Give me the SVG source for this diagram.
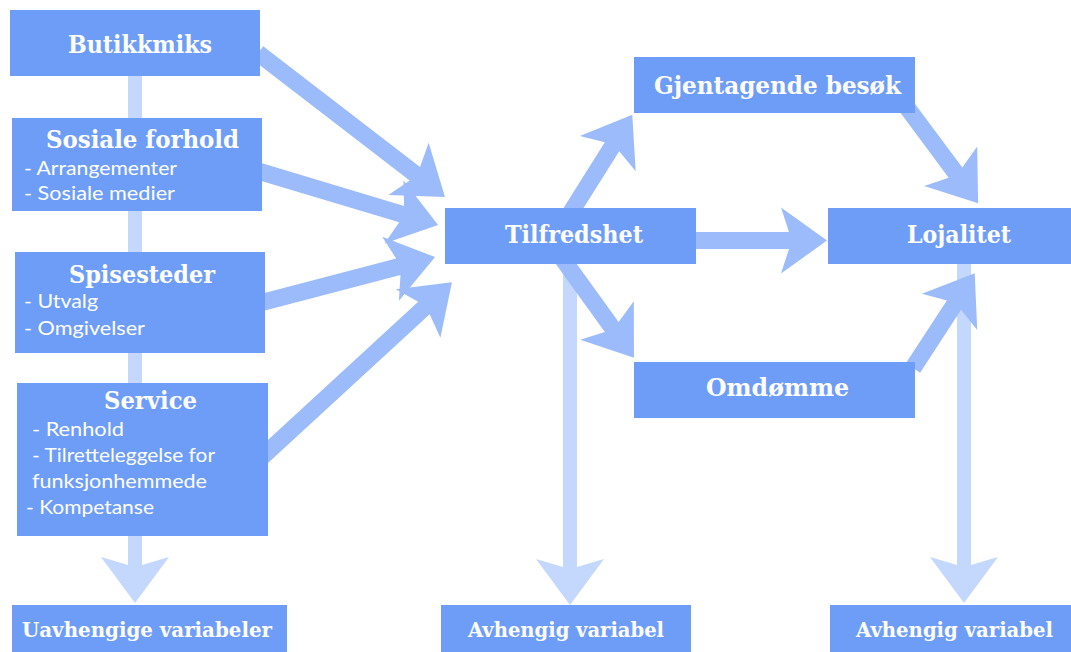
<svg xmlns="http://www.w3.org/2000/svg" width="1071" height="652" viewBox="0 0 1071 652">
<style>
.box{fill:#6e9df8}
.arr{fill:#9cbbfa}
.lt{fill:#c4d7fc}
.t{font-family:"DejaVu Serif","Liberation Serif",serif;font-weight:bold;font-size:24px;fill:#fff}
.b{font-family:"DejaVu Serif","Liberation Serif",serif;font-weight:bold;font-size:21px;fill:#fff}
.s{font-family:Lato,"Open Sans",sans-serif;font-size:20px;fill:#fff}
</style>
<rect width="1071" height="652" fill="#fff"/>
<g id="connectors">
  <polygon class="lt" transform="translate(135,70) rotate(90)" points="0,-7 495,-7 487,-34 533,0 487,34 495,7 0,7"/>
  <polygon class="lt" transform="translate(570,258) rotate(90)" points="0,-7 309,-7 301,-34 347,0 301,34 309,7 0,7"/>
  <polygon class="lt" transform="translate(964,258) rotate(90)" points="0,-7 307,-7 299,-34 345,0 299,34 307,7 0,7"/>
  <polygon class="arr" transform="translate(258,53) rotate(37.6)" points="0,-8.5 198,-8.5 190,-33 236,0 190,33 198,8.5 0,8.5"/>
  <polygon class="arr" transform="translate(258,171) rotate(16.7)" points="0,-8.5 150,-8.5 142,-33 188,0 142,33 150,8.5 0,8.5"/>
  <polygon class="arr" transform="translate(260,303) rotate(-14.7)" points="0,-8.5 143,-8.5 135,-33 181,0 135,33 143,8.5 0,8.5"/>
  <polygon class="arr" transform="translate(262,457) rotate(-42.6)" points="0,-8.5 220,-8.5 212,-33 258,0 212,33 220,8.5 0,8.5"/>
  <polygon class="arr" transform="translate(571,212) rotate(-57.8)" points="0,-8.5 77,-8.5 69,-33 115,0 69,33 77,8.5 0,8.5"/>
  <polygon class="arr" transform="translate(562,258) rotate(54.2)" points="0,-8.5 85,-8.5 77,-33 123,0 77,33 85,8.5 0,8.5"/>
  <polygon class="arr" transform="translate(690,240.5)" points="0,-8.5 99,-8.5 91,-33 137,0 91,33 99,8.5 0,8.5"/>
  <polygon class="arr" transform="translate(906,106) rotate(53.4)" points="0,-8.5 83,-8.5 75,-33 121,0 75,33 83,8.5 0,8.5"/>
  <polygon class="arr" transform="translate(913,368) rotate(-56.9)" points="0,-8.5 75,-8.5 67,-33 113,0 67,33 75,8.5 0,8.5"/>
</g>
<g id="butikkmiks">
  <rect class="box" x="10" y="10" width="250" height="66"/>
  <text class="t" x="68" y="53" textLength="144" lengthAdjust="spacingAndGlyphs">Butikkmiks</text>
</g>
<g id="sosiale">
  <rect class="box" x="12" y="118" width="250" height="93"/>
  <text class="t" x="46" y="148" textLength="193" lengthAdjust="spacingAndGlyphs">Sosiale forhold</text>
  <text class="s" x="24" y="175" textLength="153" lengthAdjust="spacingAndGlyphs">- Arrangementer</text>
  <text class="s" x="24" y="200" textLength="151" lengthAdjust="spacingAndGlyphs">- Sosiale medier</text>
</g>
<g id="spisesteder">
  <rect class="box" x="15" y="252" width="250" height="101"/>
  <text class="t" x="69" y="283" textLength="146" lengthAdjust="spacingAndGlyphs">Spisesteder</text>
  <text class="s" x="24" y="308" textLength="74" lengthAdjust="spacingAndGlyphs">- Utvalg</text>
  <text class="s" x="24" y="335" textLength="121" lengthAdjust="spacingAndGlyphs">- Omgivelser</text>
</g>
<g id="service">
  <rect class="box" x="17" y="383" width="251" height="153"/>
  <text class="t" x="104" y="409" textLength="93" lengthAdjust="spacingAndGlyphs">Service</text>
  <text class="s" x="32" y="436" textLength="92" lengthAdjust="spacingAndGlyphs">- Renhold</text>
  <text class="s" x="32" y="462" textLength="183" lengthAdjust="spacingAndGlyphs">- Tilretteleggelse for</text>
  <text class="s" x="32" y="488" textLength="175" lengthAdjust="spacingAndGlyphs">funksjonhemmede</text>
  <text class="s" x="26" y="514" textLength="128" lengthAdjust="spacingAndGlyphs">- Kompetanse</text>
</g>
<g id="uavhengige">
  <rect class="box" x="12" y="605" width="275" height="47"/>
  <text class="b" x="22" y="637" textLength="250" lengthAdjust="spacingAndGlyphs">Uavhengige variabeler</text>
</g>
<g id="tilfredshet">
  <rect class="box" x="445" y="208" width="251" height="56"/>
  <text class="t" x="505" y="243" textLength="138" lengthAdjust="spacingAndGlyphs">Tilfredshet</text>
</g>
<g id="gjentagende">
  <rect class="box" x="634" y="57" width="281" height="56"/>
  <text class="t" x="654" y="94" textLength="247" lengthAdjust="spacingAndGlyphs">Gjentagende besøk</text>
</g>
<g id="lojalitet">
  <rect class="box" x="828" y="208" width="243" height="56"/>
  <text class="t" x="907" y="243" textLength="104" lengthAdjust="spacingAndGlyphs">Lojalitet</text>
</g>
<g id="omdomme">
  <rect class="box" x="634" y="362" width="281" height="56"/>
  <text class="t" x="706" y="396" textLength="143" lengthAdjust="spacingAndGlyphs">Omdømme</text>
</g>
<g id="avhengig1">
  <rect class="box" x="441" y="605" width="250" height="47"/>
  <text class="b" x="468" y="637" textLength="196" lengthAdjust="spacingAndGlyphs">Avhengig variabel</text>
</g>
<g id="avhengig2">
  <rect class="box" x="830" y="605" width="241" height="47"/>
  <text class="b" x="856" y="637" textLength="197" lengthAdjust="spacingAndGlyphs">Avhengig variabel</text>
</g>
</svg>
